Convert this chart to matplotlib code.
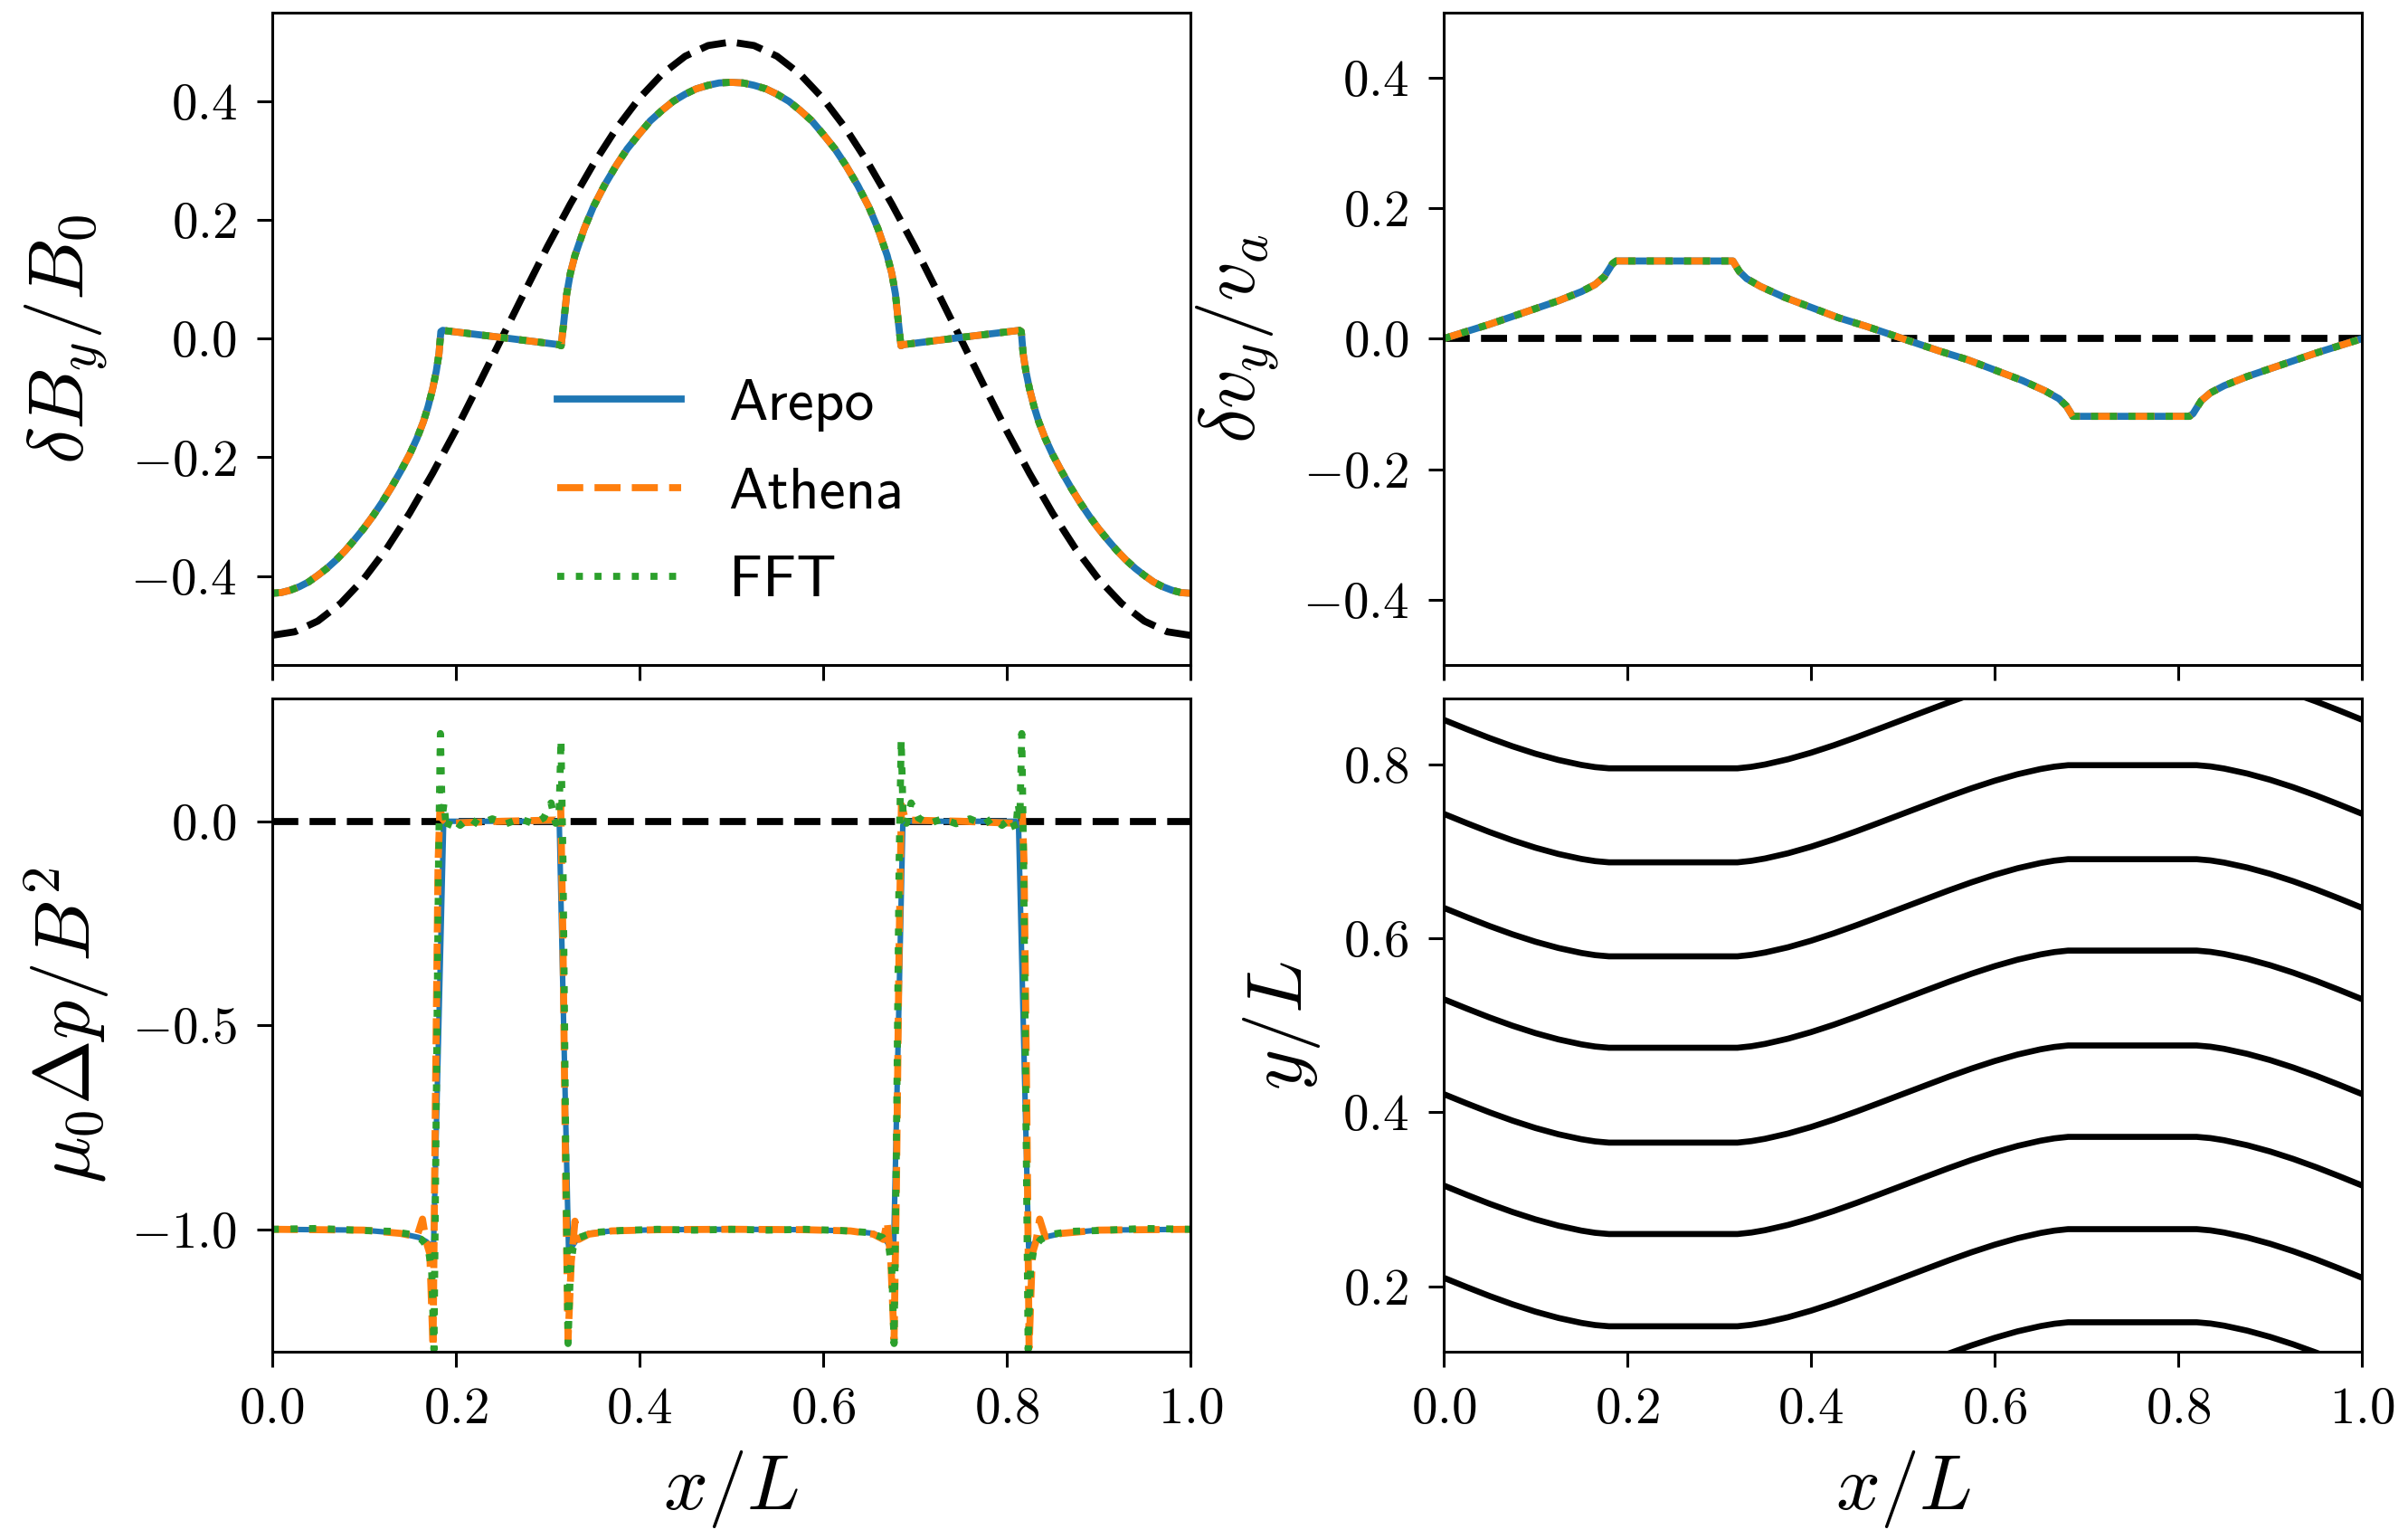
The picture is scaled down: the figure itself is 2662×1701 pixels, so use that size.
import numpy as np
import matplotlib
matplotlib.use("Agg")
import matplotlib.pyplot as plt

# ---------------- data ----------------
# top-left: delta B_y / B_0
x_by = [0.000, 0.010, 0.020, 0.030, 0.040, 0.050, 0.060, 0.070, 0.080, 0.090, 0.100, 0.110,
        0.120, 0.130, 0.140, 0.150, 0.158, 0.165, 0.170, 0.175, 0.179, 0.182, 0.184, 0.186,
        0.250, 0.312, 0.315, 0.318, 0.321, 0.325, 0.330, 0.340, 0.350, 0.362, 0.375, 0.387,
        0.400, 0.412, 0.425, 0.437, 0.450, 0.462, 0.475, 0.487, 0.500,
        0.513, 0.525, 0.538, 0.550, 0.563, 0.575, 0.588, 0.600, 0.613, 0.625, 0.638, 0.650,
        0.660, 0.670, 0.675, 0.679, 0.682, 0.685, 0.688, 0.750, 0.814, 0.816, 0.818, 0.821,
        0.825, 0.830, 0.835, 0.842, 0.850, 0.860, 0.870, 0.880, 0.890, 0.900, 0.910, 0.920,
        0.930, 0.940, 0.950, 0.960, 0.970, 0.980, 0.990, 1.000]
by_arepo = [-0.429, -0.428, -0.424, -0.418, -0.410, -0.399, -0.387, -0.373, -0.357, -0.339, -0.320, -0.299,
            -0.276, -0.251, -0.224, -0.195, -0.168, -0.140, -0.115, -0.085, -0.055, -0.025, 0.012, 0.014,
            0.002, -0.010, -0.012, 0.030, 0.075, 0.110, 0.140, 0.185, 0.222, 0.258, 0.292, 0.320,
            0.345, 0.367, 0.385, 0.400, 0.412, 0.421, 0.427, 0.431, 0.432,
            0.431, 0.427, 0.421, 0.412, 0.400, 0.385, 0.367, 0.345, 0.320, 0.292, 0.258, 0.222,
            0.185, 0.140, 0.110, 0.075, 0.030, -0.012, -0.010, 0.002, 0.014, 0.012, -0.025, -0.055,
            -0.085, -0.115, -0.140, -0.168, -0.195, -0.224, -0.251, -0.276, -0.299, -0.320, -0.339, -0.357,
            -0.373, -0.387, -0.399, -0.410, -0.418, -0.424, -0.428, -0.429]
by_athena = list(by_arepo)
by_fft = list(by_arepo)
x_cos = [0.000, 0.025, 0.050, 0.075, 0.100, 0.125, 0.150, 0.175, 0.200, 0.225, 0.250, 0.275,
         0.300, 0.325, 0.350, 0.375, 0.400, 0.425, 0.450, 0.475, 0.500, 0.525, 0.550, 0.575,
         0.600, 0.625, 0.650, 0.675, 0.700, 0.725, 0.750, 0.775, 0.800, 0.825, 0.850, 0.875,
         0.900, 0.925, 0.950, 0.975, 1.000]
by_init = [-0.500, -0.494, -0.476, -0.446, -0.405, -0.354, -0.294, -0.227, -0.155, -0.078, 0.000, 0.078,
           0.155, 0.227, 0.294, 0.354, 0.405, 0.446, 0.476, 0.494, 0.500, 0.494, 0.476, 0.446,
           0.405, 0.354, 0.294, 0.227, 0.155, 0.078, 0.000, -0.078, -0.155, -0.227, -0.294, -0.354,
           -0.405, -0.446, -0.476, -0.494, -0.500]

# top-right: delta v_y / v_a
x_vy = [0.000, 0.025, 0.050, 0.075, 0.100, 0.125, 0.150, 0.165, 0.175, 0.180, 0.184, 0.188,
        0.250, 0.315, 0.318, 0.322, 0.330, 0.345, 0.370, 0.400, 0.430, 0.460, 0.500, 0.540,
        0.570, 0.600, 0.630, 0.655, 0.670, 0.678, 0.682, 0.685, 0.750, 0.812, 0.816, 0.820,
        0.825, 0.835, 0.850, 0.875, 0.900, 0.925, 0.950, 0.975, 1.000]
vy_arepo = [0.000, 0.011, 0.022, 0.034, 0.046, 0.058, 0.072, 0.083, 0.095, 0.106, 0.115, 0.119,
            0.119, 0.119, 0.112, 0.103, 0.092, 0.080, 0.064, 0.048, 0.032, 0.019, 0.000, -0.019,
            -0.032, -0.048, -0.064, -0.080, -0.092, -0.103, -0.112, -0.119, -0.119, -0.119, -0.115, -0.106,
            -0.095, -0.083, -0.072, -0.058, -0.046, -0.034, -0.022, -0.011, 0.000]
vy_athena = list(vy_arepo)
vy_fft = list(vy_arepo)
x_zero = [0.0, 1.0]
y_zero = [0.0, 0.0]

# bottom-left: mu0 Delta p / B^2
x_p_arepo = [0.000, 0.100, 0.140, 0.160, 0.168, 0.173, 0.176, 0.182, 0.187, 0.190, 0.250, 0.310,
             0.313, 0.318, 0.323, 0.326, 0.332, 0.345, 0.370, 0.420, 0.500, 0.580, 0.630, 0.655,
             0.668, 0.674, 0.677, 0.682, 0.687, 0.690, 0.750, 0.810, 0.813, 0.818, 0.824, 0.827,
             0.832, 0.840, 0.860, 0.900, 1.000]
p_arepo = [-1.000, -1.002, -1.010, -1.020, -1.030, -1.040, -1.045, -0.480, -0.010, 0.000, 0.000, 0.000,
           -0.010, -0.530, -1.045, -1.045, -1.025, -1.010, -1.004, -1.001, -1.000, -1.001, -1.004, -1.010,
           -1.025, -1.045, -1.045, -0.530, -0.010, 0.000, 0.000, 0.000, -0.010, -0.480, -1.045, -1.040,
           -1.030, -1.020, -1.010, -1.002, -1.000]
x_p_athena = [0.000, 0.100, 0.140, 0.158, 0.164, 0.168, 0.172, 0.1755, 0.178, 0.181, 0.183, 0.186,
              0.190, 0.250, 0.310, 0.3145, 0.317, 0.320, 0.3225, 0.326, 0.330, 0.334, 0.345, 0.370,
              0.420, 0.500, 0.580, 0.630, 0.655, 0.666, 0.670, 0.674, 0.6775, 0.680, 0.683, 0.6855,
              0.690, 0.750, 0.810, 0.814, 0.817, 0.819, 0.822, 0.8245, 0.828, 0.832, 0.836, 0.842,
              0.860, 0.900, 1.000]
p_athena = [-1.000, -1.002, -1.010, -1.018, -0.975, -1.030, -1.060, -1.290, -0.700, -0.100, 0.030, 0.005,
            -0.005, 0.000, 0.003, 0.040, -0.300, -0.900, -1.270, -1.080, -0.980, -1.025, -1.012, -1.004,
            -1.001, -1.000, -1.001, -1.004, -1.012, -1.025, -0.980, -1.080, -1.270, -0.900, -0.300, 0.040,
            0.003, 0.000, -0.005, 0.005, 0.030, -0.100, -0.700, -1.290, -1.060, -1.030, -0.975, -1.018,
            -1.010, -1.002, -1.000]
x_p_fft = [0.000, 0.050, 0.100, 0.130, 0.150, 0.163, 0.170, 0.174, 0.1765, 0.179, 0.1815, 0.1835,
           0.1855, 0.1875, 0.190, 0.195, 0.205, 0.215, 0.225, 0.240, 0.255, 0.270, 0.285, 0.296,
           0.304, 0.309, 0.3125, 0.3148, 0.317, 0.320, 0.3225, 0.325, 0.328, 0.335, 0.350, 0.380,
           0.420, 0.460, 0.500, 0.540, 0.580, 0.620, 0.650, 0.665, 0.672, 0.675, 0.6775, 0.680,
           0.683, 0.6852, 0.6875, 0.691, 0.696, 0.704, 0.715, 0.730, 0.745, 0.760, 0.775, 0.785,
           0.795, 0.805, 0.810, 0.8125, 0.8145, 0.8165, 0.8185, 0.821, 0.8235, 0.826, 0.830, 0.837,
           0.850, 0.870, 0.900, 0.950, 1.000]
p_fft = [-1.000, -0.998, -1.003, -1.005, -1.012, -1.025, -1.045, -1.100, -1.295, -0.700, -0.100, 0.215,
         0.010, 0.045, -0.020, 0.008, -0.010, 0.008, -0.008, 0.006, -0.006, 0.006, -0.006, 0.008,
         0.045, -0.005, 0.000, 0.200, -0.100, -0.800, -1.280, -1.100, -1.045, -1.020, -1.008, -1.003,
         -1.000, -1.002, -1.000, -1.002, -1.000, -1.003, -1.008, -1.020, -1.045, -1.100, -1.280, -0.800,
         -0.100, 0.200, 0.000, -0.005, 0.045, 0.008, -0.006, 0.006, -0.006, 0.006, -0.008, 0.008,
         -0.010, 0.008, -0.020, 0.045, 0.010, 0.215, -0.100, -0.700, -1.295, -1.100, -1.045, -1.025,
         -1.012, -1.005, -1.003, -0.998, -1.000]

# bottom-right: field lines (shape of displacement and line offsets)
x_fl = [0.000, 0.025, 0.050, 0.075, 0.100, 0.125, 0.150, 0.165, 0.180, 0.320, 0.335, 0.350,
        0.375, 0.400, 0.425, 0.450, 0.475, 0.500, 0.525, 0.550, 0.575, 0.600, 0.625, 0.650,
        0.665, 0.680, 0.820, 0.835, 0.850, 0.875, 0.900, 0.925, 0.950, 0.975, 1.000]
d_fl = [0.0000, -0.0107, -0.0210, -0.0305, -0.0390, -0.0462, -0.0519, -0.0544, -0.0558, -0.0558, -0.0541, -0.0514,
        -0.0454, -0.0379, -0.0293, -0.0199, -0.0100, 0.0000, 0.0100, 0.0199, 0.0293, 0.0379, 0.0454, 0.0514,
        0.0541, 0.0558, 0.0558, 0.0544, 0.0519, 0.0462, 0.0390, 0.0305, 0.0210, 0.0107, 0.0000]
fl_offsets = [0.103, 0.210, 0.316, 0.421, 0.530, 0.635, 0.743, 0.851]

x_ticks = [0.0, 0.2, 0.4, 0.6, 0.8, 1.0]

# ---------------- style ----------------
plt.rcParams.update({
    "font.family": "cmr10",
    "mathtext.fontset": "cm",
    "axes.formatter.use_mathtext": True,
    "axes.unicode_minus": True,
    "axes.linewidth": 1.1,
    "xtick.major.size": 6, "ytick.major.size": 6,
    "xtick.major.width": 1.1, "ytick.major.width": 1.1,
    "xtick.major.pad": 8, "ytick.major.pad": 8,
    "xtick.labelsize": 20.5, "ytick.labelsize": 20.5,
    "axes.labelsize": 31,
})

C_AREPO, C_ATHENA, C_FFT = "#1f77b4", "#ff7f0e", "#2ca02c"
LW = 2.8

fig = plt.figure(figsize=(13.31, 8.505), dpi=200)
ax_tl = fig.add_axes([0.1129, 0.5679, 0.3814, 0.4241])
ax_tr = fig.add_axes([0.5995, 0.5679, 0.3814, 0.4241])
ax_bl = fig.add_axes([0.1129, 0.1217, 0.3814, 0.4242])
ax_br = fig.add_axes([0.5995, 0.1217, 0.3814, 0.4242])

# top-left
ax_tl.plot(x_cos, by_init, color="k", ls="--", lw=LW)
ax_tl.plot(x_by, by_arepo, color=C_AREPO, ls="-", lw=LW, label="Arepo")
ax_tl.plot(x_by, by_athena, color=C_ATHENA, ls="--", lw=LW, label="Athena")
ax_tl.plot(x_by, by_fft, color=C_FFT, ls=":", lw=LW, label="FFT")
ax_tl.set_ylim(-0.55, 0.55)
ax_tl.set_yticks([-0.4, -0.2, 0.0, 0.2, 0.4])
ax_tl.set_ylabel(r"$\delta B_y/B_0$", labelpad=8)
ax_tl.legend(loc="center", bbox_to_anchor=(0.50, 0.263), frameon=False,
             prop={"family": "cmss10", "size": 23.5}, handlelength=2.1,
             labelspacing=0.6)

# top-right
ax_tr.plot(x_zero, y_zero, color="k", ls="--", lw=LW)
ax_tr.plot(x_vy, vy_arepo, color=C_AREPO, ls="-", lw=LW)
ax_tr.plot(x_vy, vy_athena, color=C_ATHENA, ls="--", lw=LW)
ax_tr.plot(x_vy, vy_fft, color=C_FFT, ls=":", lw=LW)
ax_tr.set_ylim(-0.5, 0.5)
ax_tr.set_yticks([-0.4, -0.2, 0.0, 0.2, 0.4])
ax_tr.set_ylabel(r"$\delta v_y/v_a$", labelpad=8)

# bottom-left
ax_bl.plot(x_zero, y_zero, color="k", ls="--", lw=LW)
ax_bl.plot(x_p_arepo, p_arepo, color=C_AREPO, ls="-", lw=2.2)
ax_bl.plot(x_p_athena, p_athena, color=C_ATHENA, ls="--", lw=LW)
ax_bl.plot(x_p_fft, p_fft, color=C_FFT, ls=":", lw=LW)
ax_bl.set_ylim(-1.3, 0.3)
ax_bl.set_yticks([-1.0, -0.5, 0.0])
ax_bl.set_ylabel(r"$\mu_0\Delta p/B^2$", labelpad=8)

# bottom-right: field lines
xf = np.asarray(x_fl)
df = np.asarray(d_fl)
for y0 in fl_offsets:
    ax_br.plot(xf, y0 + df, color="k", lw=2.4, solid_capstyle="round", solid_joinstyle="round")
ax_br.set_ylim(0.125, 0.875)
ax_br.set_yticks([0.2, 0.4, 0.6, 0.8])
ax_br.set_ylabel(r"$y/L$", labelpad=8)

for ax in (ax_tl, ax_tr, ax_bl, ax_br):
    ax.set_xlim(0, 1)
    ax.set_xticks(x_ticks)
for ax in (ax_tl, ax_tr):
    ax.tick_params(labelbottom=False)
for ax in (ax_bl, ax_br):
    ax.set_xlabel(r"$x/L$", labelpad=6)

fig.savefig("out.png", dpi=200)
